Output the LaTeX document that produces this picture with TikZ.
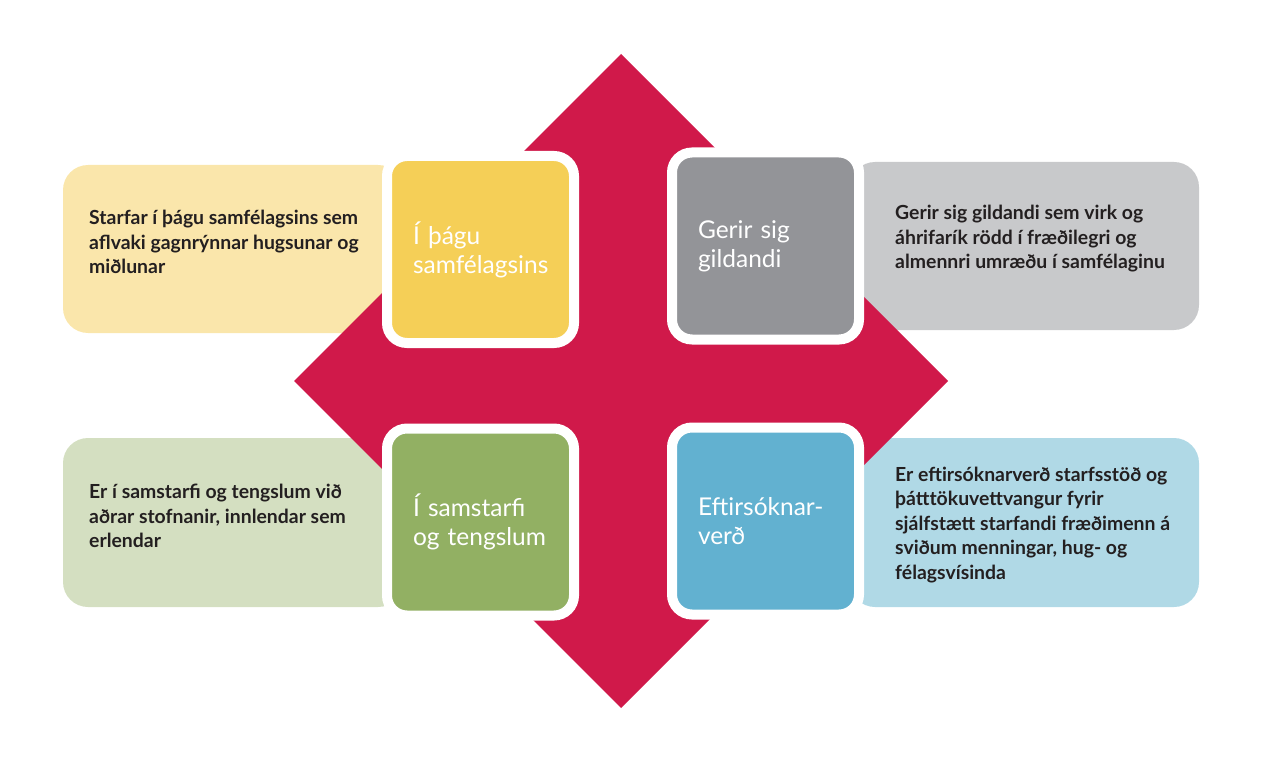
\documentclass[tikz,border=0pt]{standalone}
\usepackage{fontspec}
\setmainfont{Lato}
\usepackage{xcolor}
\usepackage{tikz}
\usetikzlibrary{positioning}
\definecolor{crim}{HTML}{D0194A}
\definecolor{ink}{HTML}{231F20}
\definecolor{yel}{HTML}{F5CF57}
\definecolor{yelpale}{HTML}{FAE6AB}
\definecolor{gry}{HTML}{939498}
\definecolor{grypale}{HTML}{C8C9CB}
\definecolor{grn}{HTML}{92B063}
\definecolor{grnpale}{HTML}{D4DFC1}
\definecolor{blu}{HTML}{62B1D0}
\definecolor{blupale}{HTML}{B0D9E6}

\begin{document}
\begin{tikzpicture}[x=1pt,y=-1pt,
  sq/.style={draw=white,line width=10pt,rounded corners=20pt,minimum size=187pt,
    inner xsep=26pt,text width=135pt,align=left,text=white,
    font=\fontsize{24.5}{29}\selectfont},
  pale/.style={rounded corners=25pt,minimum height=168pt,inner sep=0pt},
  txt/.style={anchor=west,align=left,inner sep=0pt,text=ink,
    font=\bfseries\fontsize{19.4}{24.5}\selectfont}]
\useasboundingbox (0,0) rectangle (1274,767);
% pale boxes behind
\node[pale,fill=yelpale,minimum width=340pt] (pY) at (233,249) {};
\node[pale,fill=grypale,minimum width=349pt] (pG) at (1024.5,246) {};
\node[pale,fill=grnpale,minimum width=340pt,minimum height=169pt] (pN) at (233,522.5) {};
\node[pale,fill=blupale,minimum width=349pt,minimum height=169pt] (pB) at (1024.5,522.5) {};
% red diamond
\fill[crim] (621,54) -- (948,381) -- (621,708) -- (294,381) -- cycle;
% squares
\foreach \n/\c/\x/\y/\t in {Y/yel/480.5/249.5/{Í þágu\\samfélagsins},
    G/gry/765.5/246/{Gerir sig\\gildandi},
    N/grn/480.5/522/{Í samstarfi\\og tengslum},
    B/blu/765.5/521/{Eftirsóknar-\\verð}}{
  \node[sq,fill=\c] (sq\n) at (\x,\y) {\t};
}
% descriptions
\node[txt] (tY) at (89,242) {Starfar í þágu samfélagsins sem\\aflvaki gagnrýnnar hugsunar og\\miðlunar};
\node[txt] (tG) at (895,239) {Gerir sig gildandi sem virk og\\áhrifarík rödd í fræðilegri og\\almennri umræðu í samfélaginu};
\node[txt] (tN) at (89,516) {Er í samstarfi og tengslum við\\aðrar stofnanir, innlendar sem\\erlendar};
\node[txt] (tB) at (895,525) {Er eftirsóknarverð starfsstöð og\\þátttökuvettvangur fyrir\\sjálfstætt starfandi fræðimenn á\\sviðum menningar, hug- og\\félagsvísinda};
\end{tikzpicture}
\end{document}
